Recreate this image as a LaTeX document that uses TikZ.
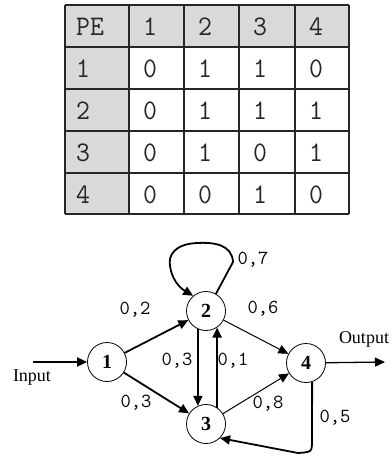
\documentclass[tikz,border=0pt]{standalone}
\usepackage{fontspec}
\usepackage{graphicx}
\setmainfont{Liberation Serif}
\usetikzlibrary{arrows.meta}
\newcommand\tcell[1]{\scalebox{1}[1.05]{#1}}
\begin{document}
\begin{tikzpicture}[x=1pt,y=-1pt,
 cell/.style={anchor=west,inner sep=0pt,text=black!85,font=\ttfamily\fontsize{27}{27}\selectfont},
 pe/.style={circle,draw,line width=0.8pt,minimum size=39pt,inner sep=0pt,font=\bfseries\fontsize{20}{20}\selectfont},
 lab/.style={inner sep=0pt,font=\ttfamily\fontsize{20}{20}\selectfont},
 io/.style={inner sep=0pt,font=\fontsize{18}{18}\selectfont},
 tip/.style={-{Triangle[length=10pt,width=9pt]}},
 thk/.style={tip,line width=1.8pt},
 thn/.style={tip,line width=1pt},
 grid line/.style={line width=1.3pt,black!85}]
\useasboundingbox (0,0) rectangle (391,458);
% table
\fill[black!15] (65,5) rectangle (349,47);
\fill[black!15] (65,47) rectangle (129,214);
\foreach \x in {65,129,184,239,295,349} \draw[grid line] (\x,5) -- (\x,214);
\foreach \y in {5,47,89,131,173,214} \draw[grid line] (65,\y) -- (349,\y);
\foreach \r/\y/\a/\b/\c/\d/\e in {0/27/PE/1/2/3/4, 1/69/1/0/1/1/0, 2/111/2/0/1/1/1, 3/153/3/0/1/0/1, 4/194.5/4/0/0/1/0} {
  \node[cell] (t\r-0) at (76,\y) {\tcell{\a}};
  \node[cell] (t\r-1) at (143,\y) {\tcell{\b}};
  \node[cell] (t\r-2) at (198,\y) {\tcell{\c}};
  \node[cell] (t\r-3) at (253,\y) {\tcell{\d}};
  \node[cell] (t\r-4) at (309,\y) {\tcell{\e}};
}
% graph
\node[pe] (n1) at (107,362) {1};
\node[pe] (n2) at (206,311) {2};
\node[pe] (n3) at (206,424) {3};
\node[pe] (n4) at (306,363) {4};
\coordinate (in) at (33,362);
\coordinate (out) at (385,362);
\node[io] (inl) at (32,378) {Input};
\node[io] (outl) at (364,339) {Output};
\draw[thk] (in) -- (n1);
\draw[tip,line width=1.3pt] (n4) -- (out);
\draw[thk] (n1) -- (n2);
\draw[thk] (n1) -- (n3);
\draw[thk] (n2.-114) -- (n3.114);
\draw[thk] (n3.56) -- (n2.-56);
\draw[thn] (n2) -- (n4);
\draw[thn] (n3) -- (n4);
\draw[thk] (n2.60) -- (233,262) .. controls (232,245) and (215,242) .. (197,243)
  .. controls (175,244) and (168,255) .. (170,266)
  .. controls (172,280) and (180,288) .. (n2.130);
\draw[thk] (n4.-72) -- (312,440) .. controls (312,452) .. (298,453) -- (n3.-45);
% labels
\node[lab] (l12) at (135,310) {0,2};
\node[lab] (l13) at (136,403) {0,3};
\node[lab] (l23) at (177,361) {0,3};
\node[lab] (l32) at (233,361) {0,1};
\node[lab] (l24) at (263,309) {0,6};
\node[lab] (l34) at (268,404) {0,8};
\node[lab] (l43) at (335,418) {0,5};
\node[lab] (l22) at (253,260) {0,7};
\end{tikzpicture}
\end{document}
